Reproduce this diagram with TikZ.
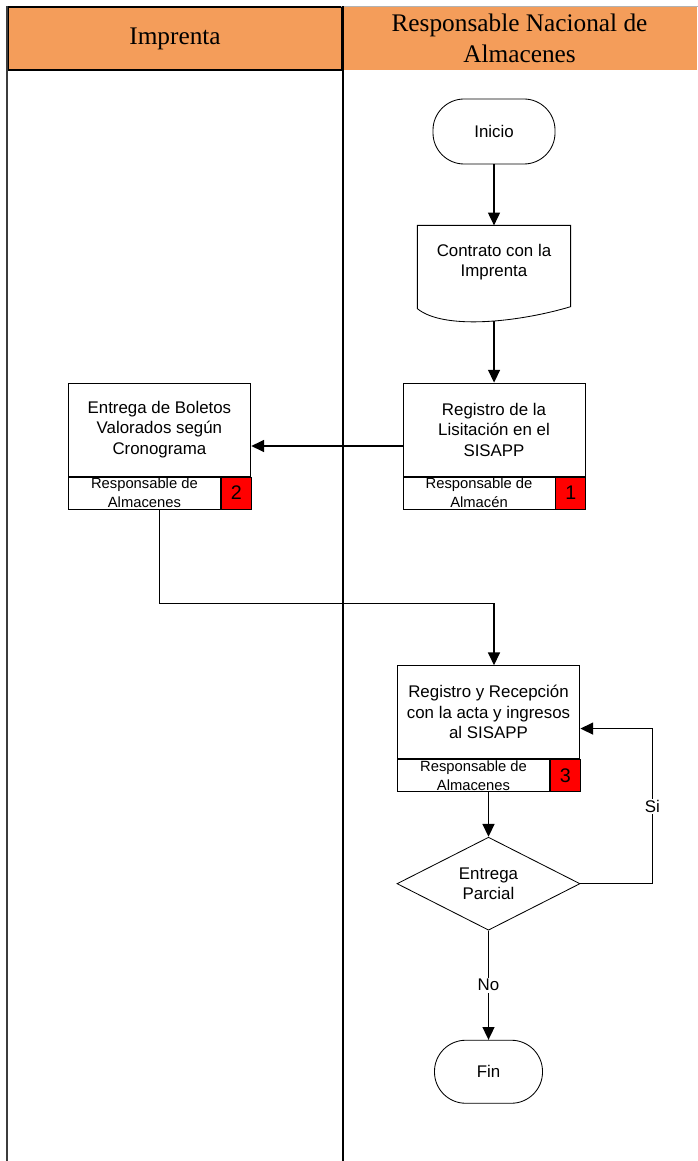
\documentclass[tikz,border=0pt]{standalone}
\usepackage{fontspec}
\setmainfont{Liberation Sans}
\newfontfamily\headfont{Liberation Serif}
\usetikzlibrary{positioning}
\usetikzlibrary{calc}
\usetikzlibrary{shapes.geometric,arrows.meta}
\definecolor{laneorange}{RGB}{244,157,90}
\definecolor{lanegray}{RGB}{60,60,60}
\tikzset{
    proc/.style={
           rectangle,
           draw=black, line width=0.6pt,
           minimum width=4.55cm,
           minimum height=2.325cm,
           inner sep=2pt,
           align=center,
           font=\fontsize{12}{14.6}\selectfont
           },
    resp/.style={
           rectangle, anchor=north west,
           draw=black, line width=0.6pt,
           minimum width=3.8cm,
           minimum height=0.8cm,
           inner sep=0pt,
           align=center,
           font=\fontsize{10.5}{13.6}\selectfont
           },
    num/.style={
           rectangle, anchor=north west,
           draw=black, fill=red, line width=0.6pt,
           minimum width=0.75cm,
           minimum height=0.8cm,
           inner sep=0pt,
           font=\fontsize{14}{16}\selectfont
           },
    term/.style={
           rectangle,
           rounded corners=0.78cm,
           draw=black, line width=0.6pt,
           minimum width=3.05cm,
           minimum height=1.625cm,
           font=\fontsize{12}{14}\selectfont
           },
    doc/.style={
           rectangle,
           minimum width=3.8cm,
           minimum height=1.8cm,
           align=center,
           font=\fontsize{12}{14.6}\selectfont
           },
    dec/.style={
           diamond,
           draw=black, line width=0.6pt,
           minimum width=4.575cm,
           minimum height=2.325cm,
           inner sep=0pt,
           align=center,
           font=\fontsize{12}{14.6}\selectfont
           },
    head/.style={
           rectangle,
           fill=laneorange,
           minimum height=1.575cm,
           inner sep=0pt,
           align=center,
           font=\headfont\fontsize{18}{22}\selectfont
           },
    lane/.style={draw=lanegray, line width=1.3pt},
    lbl/.style={fill=white, inner sep=1pt, font=\fontsize{12}{14}\selectfont},
}
\begin{document}
\begin{tikzpicture}[x=0.025cm, y=-0.025cm, >={Triangle[length=0.32cm,width=0.3cm]}, line width=0.9pt, on grid]
   \useasboundingbox (0,0) rectangle (697,1161);
   \coordinate (bot) at (0,1161);

   % lanes
   \node[head, draw=black, line width=0.8pt, minimum width=8.35cm] (himp) at (175,38.5) {Imprenta};
   \node[head, minimum width=8.875cm] (halm) at (519.5,38.5) {Responsable Nacional de\\Almacenes};
   \draw[gray!60, line width=0.6pt] (halm.north west) -- (halm.north east);
   \draw[lane] (himp.north west) -- (himp.north west |- bot);
   \draw[draw=black, line width=1.3pt] (himp.north east) -- (himp.north east |- bot);

   \node[term] (inicio) at (494,131.5) {Inicio};
   \node[doc] (contrato) [below=3.2625cm of inicio] {Contrato con la\\Imprenta};
   \node[proc] (reg1) [below=4.1875cm of contrato] {Registro de la\\Lisitación en el\\SISAPP};
   \node[resp] (reg1r) at (reg1.south west) {Responsable de\\Almacén};
   \node[num] (reg1n) at (reg1r.north east) {1};
   \node[proc] (ent) [left=8.3625cm of reg1] {Entrega de Boletos\\Valorados según\\Cronograma};
   \node[resp] (entr) at (ent.south west) {Responsable de\\Almacenes};
   \node[num] (entn) at (entr.north east) {2};
   \node[proc] (reg2) [below=7.0625cm of reg1, xshift=-0.1375cm] {Registro y Recepción\\con la acta y ingresos\\al SISAPP};
   \node[resp] (reg2r) at (reg2.south west) {Responsable de\\Almacenes};
   \node[num] (reg2n) at (reg2r.north east) {3};
   \node[dec] (dec) [below=4.2875cm of reg2] {Entrega\\Parcial};
   \node[term, minimum width=2.7cm, minimum height=1.575cm] (fin) [below=4.7cm of dec] {Fin};

   \draw[line width=0.6pt] (contrato.north west) -- ([yshift=-0.25cm]contrato.south west)
      .. controls +(0.675cm,-0.55cm) and +(-1.25cm,-0.375cm) .. ([yshift=-0.2cm]contrato.south east)
      coordinate[pos=.55] (contrato-w) -- (contrato.north east) -- cycle;

   \path[->]
    (inicio) edge (contrato)
    (contrato-w) edge (contrato-w |- reg1.north)
    (reg2.center |- reg2r.south) edge (dec.north)
    (dec) edge node[lbl] {No} (fin)
       ;
   \draw[->] ($(reg1.north west)!.5!(reg1r.south west)$) -- ($(ent.north east)!.5!(entn.south east)$);
   \draw[->] (ent.center |- entr.south) -- ++(0,94) -| (reg1.center |- reg2.north);
   \draw[->] (dec.east) -- ++(72,0) |- node[lbl, pos=.25] {Si} ($(reg2.north east)!.5!(reg2n.south east)$);
\end{tikzpicture}
\end{document}
